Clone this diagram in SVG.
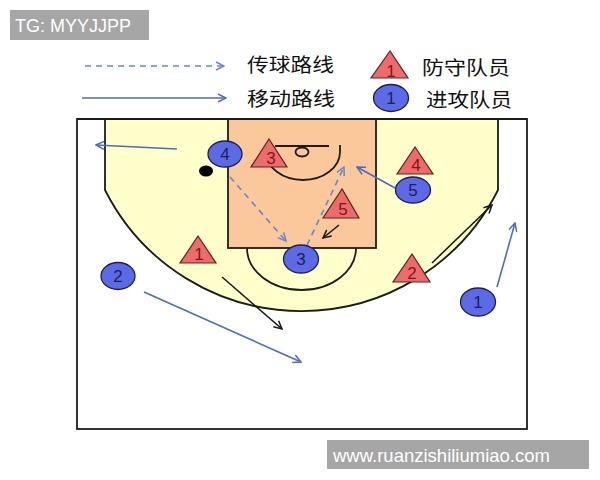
<svg xmlns="http://www.w3.org/2000/svg" width="600" height="480" viewBox="0 0 600 480">
<defs>
<style>
.court{stroke:#1c1c1c;stroke-width:1.8;}
.off ellipse{fill:#5C6AE6;stroke:#1c1f55;stroke-width:1.3;}
.off text{fill:#1c1f55;font-family:"Liberation Sans",Arial,sans-serif;font-size:17px;text-anchor:middle;}
.def polygon{fill:#EF6B6B;stroke:#5a2222;stroke-width:1.2;stroke-linejoin:miter;}
.def text{fill:#7a1a1a;font-family:"Liberation Sans",Arial,sans-serif;font-size:17px;text-anchor:middle;}
.blue{stroke:#4E6CB9;stroke-width:1.6;fill:none;marker-end:url(#ab);}
.dash{stroke:#6386D6;stroke-width:1.6;fill:none;stroke-dasharray:6,5;marker-end:url(#ad);}
.blk{stroke:#1a1a1a;stroke-width:1.6;fill:none;marker-end:url(#ak);}
.cjk{font-family:"Noto Sans CJK SC","Noto Sans",sans-serif;font-size:19px;fill:#111;}
</style>
<marker id="ab" viewBox="0 0 10 10" refX="9" refY="5" markerWidth="10" markerHeight="10" markerUnits="userSpaceOnUse" orient="auto"><path d="M1,1 L9,5 L1,9" fill="none" stroke="#4E6CB9" stroke-width="1.5"/></marker>
<marker id="ad" viewBox="0 0 10 10" refX="9" refY="5" markerWidth="10" markerHeight="10" markerUnits="userSpaceOnUse" orient="auto"><path d="M1,1 L9,5 L1,9" fill="none" stroke="#6386D6" stroke-width="1.5"/></marker>
<marker id="ak" viewBox="0 0 10 10" refX="9" refY="5" markerWidth="10" markerHeight="10" markerUnits="userSpaceOnUse" orient="auto"><path d="M1,1 L9,5 L1,9" fill="none" stroke="#1a1a1a" stroke-width="1.5"/></marker>
</defs>
<rect width="600" height="480" fill="#ffffff"/>

<g id="watermark-tg">
<rect x="10" y="10" width="139" height="30" fill="#A6A6A6"/>
<text x="15" y="32" font-family="Liberation Sans,Arial,sans-serif" font-size="18" fill="#ffffff">TG: MYYJJPP</text>
</g>

<g id="legend">
<line x1="85" y1="66" x2="224" y2="66" class="dash"/>
<line x1="82" y1="98" x2="226" y2="98" class="blue"/>
<text x="247" y="72" class="cjk" textLength="87" lengthAdjust="spacingAndGlyphs">传球路线</text>
<text x="247" y="106" class="cjk" textLength="88" lengthAdjust="spacingAndGlyphs">移动路线</text>
<g class="def"><polygon points="390,51 371,78 408,78"/><text x="391" y="77">1</text></g>
<g class="off"><ellipse cx="391" cy="98" rx="17.5" ry="13.5"/><text x="391" y="104">1</text></g>
<text x="422" y="75" class="cjk" textLength="88" lengthAdjust="spacingAndGlyphs">防守队员</text>
<text x="426" y="107" class="cjk" textLength="86" lengthAdjust="spacingAndGlyphs">进攻队员</text>
</g>

<g id="court" class="court">
<rect x="77" y="119" width="450" height="310" fill="#ffffff"/>
<path d="M105,119 L105,190 A220,220 0 0 0 498,190 L498,119 Z" fill="#FFFFCC"/>
<rect x="228" y="119" width="148" height="129" fill="#FAC89B"/>
<path d="M247,248 A54.5,42 0 0 0 356,248" fill="none"/>
<line x1="275" y1="146" x2="329" y2="146"/>
<ellipse cx="302" cy="152" rx="6.5" ry="4.5" fill="none"/>
<path d="M340,145 L340,152 A37,28 0 0 1 266,152" fill="none"/>
<line x1="77" y1="119" x2="527" y2="119"/>
</g>

<g id="connectors">
<line x1="177" y1="149" x2="96" y2="145" class="blue"/>
<line x1="230" y1="177" x2="286" y2="241" class="dash"/>
<line x1="307" y1="245" x2="344" y2="167" class="dash"/>
<line x1="395" y1="188" x2="357" y2="167" class="blue"/>
<line x1="339" y1="225" x2="323" y2="238" class="blk"/>
<line x1="432" y1="263" x2="492" y2="205" class="blk"/>
<line x1="497" y1="287" x2="515" y2="223" class="blue"/>
<line x1="222" y1="277" x2="282" y2="329" class="blk"/>
<line x1="144" y1="292" x2="301" y2="362" class="blue"/>
</g>

<g id="ball"><ellipse cx="206" cy="171" rx="7" ry="5.5" fill="#000000"/></g>

<g id="def-3" class="def"><polygon points="269,139 251,167 287,167"/><text x="271" y="164">3</text></g>
<g id="def-5" class="def"><polygon points="342,189 323,218 359,218"/><text x="343" y="215">5</text></g>
<g id="def-4" class="def"><polygon points="415,147 397,174 433,174"/><text x="416" y="171">4</text></g>
<g id="def-1" class="def"><polygon points="198,236 180,263 216,263"/><text x="199" y="260">1</text></g>
<g id="def-2" class="def"><polygon points="412,254 393,282 430,282"/><text x="412" y="279">2</text></g>

<g id="off-4" class="off"><ellipse cx="225" cy="154" rx="17" ry="13"/><text x="225" y="160">4</text></g>
<g id="off-3" class="off"><ellipse cx="301" cy="259" rx="17.5" ry="14"/><text x="301" y="265">3</text></g>
<g id="off-5" class="off"><ellipse cx="413" cy="190" rx="17.5" ry="13"/><text x="413" y="196">5</text></g>
<g id="off-2" class="off"><ellipse cx="118" cy="276" rx="17" ry="13.5"/><text x="118" y="282">2</text></g>
<g id="off-1" class="off"><ellipse cx="478" cy="302" rx="17.5" ry="14"/><text x="478" y="308">1</text></g>

<g id="watermark-url">
<rect x="327" y="440" width="262" height="29" fill="#A6A6A6"/>
<text x="333" y="462" font-family="Liberation Sans,Arial,sans-serif" font-size="18.5" fill="#ffffff">www.ruanzishiliumiao.com</text>
</g>
</svg>
